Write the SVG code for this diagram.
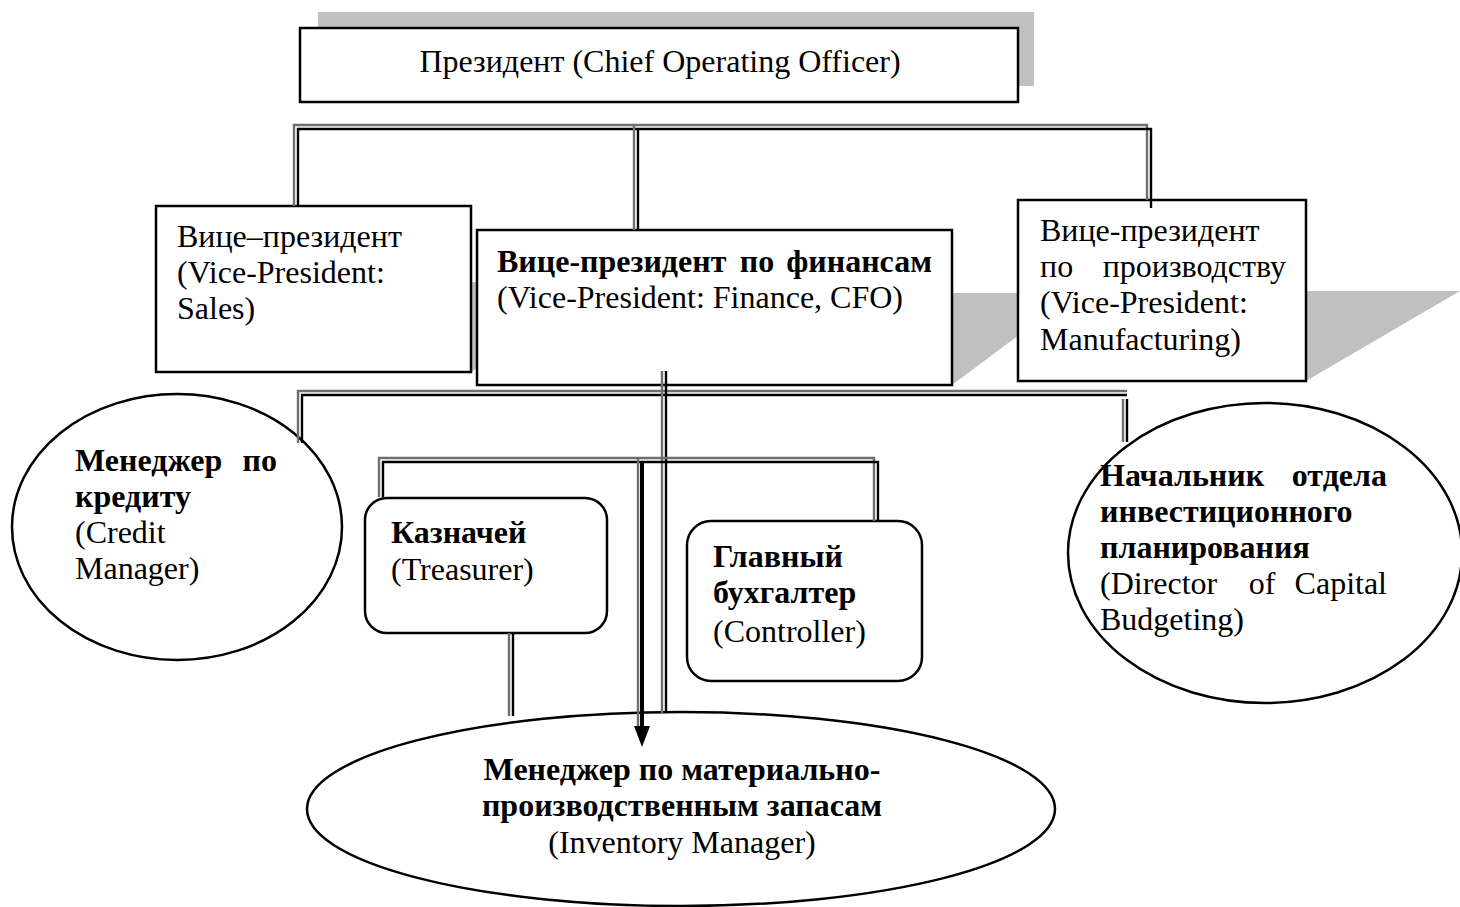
<svg xmlns="http://www.w3.org/2000/svg" width="1460" height="907" viewBox="0 0 1460 907">
<style>
.bg{fill:#fff}
.shadow{fill:#c0c0c0;stroke:none}
.box{fill:#fff;stroke:#000;stroke-width:2.5}
.t{font-family:"Liberation Serif","Times New Roman",serif;font-size:32px;fill:#000}
.b{font-weight:bold}
.cg{fill:none;stroke:#6e6e6e;stroke-width:2.4}
.cb{fill:none;stroke:#000;stroke-width:2.4}
</style>
<rect class="bg" x="0" y="0" width="1460" height="907"/>
<g id="shadows">
<rect class="shadow" x="318" y="12" width="716" height="74"/>
<polygon class="shadow" points="156,372 471,372 625,282 310,282"/>
<polygon class="shadow" points="477,385 952,385 1075,293 600,293"/>
<polygon class="shadow" points="1018,381 1306,381 1460,291 1172,291"/>
</g>
<g id="president">
<rect class="box" x="300" y="28" width="718" height="74"/>
<text class="t" x="660" y="72" text-anchor="middle">Президент (Chief Operating Officer)</text>
</g>
<g id="vp-sales">
<rect class="box" x="156" y="206" width="315" height="166"/>
<text class="t" x="177" y="247">Вице–президент</text>
<text class="t" x="177" y="283">(Vice-President:</text>
<text class="t" x="177" y="319">Sales)</text>
</g>
<g id="vp-finance">
<rect class="box" x="477" y="230" width="475" height="155"/>
<text class="t b" y="272"><tspan x="497">Вице-президент</tspan><tspan x="757" text-anchor="middle">по</tspan><tspan x="932" text-anchor="end">финансам</tspan></text>
<text class="t" x="497" y="308">(Vice-President: Finance, CFO)</text>
</g>
<g id="vp-manufacturing">
<rect class="box" x="1018" y="200" width="288" height="181"/>
<text class="t" x="1040" y="241">Вице-президент</text>
<text class="t" y="277"><tspan x="1040">по</tspan><tspan x="1286" text-anchor="end">производству</tspan></text>
<text class="t" x="1040" y="313">(Vice-President:</text>
<text class="t" x="1040" y="350">Manufacturing)</text>
</g>
<g id="credit-manager">
<ellipse class="box" cx="177" cy="527" rx="165" ry="133" stroke-width="2"/>
<text class="t b" y="471"><tspan x="75">Менеджер</tspan><tspan x="277" text-anchor="end">по</tspan></text>
<text class="t b" x="75" y="507">кредиту</text>
<text class="t" x="75" y="543">(Credit</text>
<text class="t" x="75" y="579">Manager)</text>
</g>
<g id="treasurer">
<rect class="box" x="365" y="498" width="242" height="135" rx="22" ry="22"/>
<text class="t b" x="391" y="543">Казначей</text>
<text class="t" x="391" y="580">(Treasurer)</text>
</g>
<g id="controller">
<rect class="box" x="687" y="521" width="235" height="160" rx="24" ry="24"/>
<text class="t b" x="713" y="567">Главный</text>
<text class="t b" x="713" y="603">бухгалтер</text>
<text class="t" x="713" y="642">(Controller)</text>
</g>
<g id="capital-budgeting">
<ellipse class="box" cx="1265" cy="553" rx="197" ry="150" stroke-width="2"/>
<text class="t b" y="486"><tspan x="1100">Начальник</tspan><tspan x="1387" text-anchor="end">отдела</tspan></text>
<text class="t b" x="1100" y="522">инвестиционного</text>
<text class="t b" x="1100" y="558">планирования</text>
<text class="t" y="594"><tspan x="1100">(Director</tspan><tspan x="1262" text-anchor="middle">of</tspan><tspan x="1387" text-anchor="end">Capital</tspan></text>
<text class="t" x="1100" y="630">Budgeting)</text>
</g>
<g id="inventory-manager">
<ellipse class="box" cx="681" cy="809" rx="374" ry="97" stroke-width="2"/>
<text class="t b" x="682" y="780" text-anchor="middle">Менеджер по материально-</text>
<text class="t b" x="682" y="816" text-anchor="middle">производственным запасам</text>
<text class="t" x="682" y="853" text-anchor="middle">(Inventory Manager)</text>
</g>
<g id="connectors">
<path class="cg" d="M294,206 V125 H1147 V200"/>
<path class="cb" d="M298,206 V129 H1151 V208"/>
<path class="cg" d="M634,125 V230"/>
<path class="cb" d="M638,129 V230"/>
<path class="cg" d="M298,443 V391 H1127"/>
<path class="cb" d="M302,443 V395 H1127"/>
<path class="cg" d="M1123,399 V442"/>
<path class="cb" d="M1127,399 V442"/>
<path class="cg" d="M662,371 V713"/>
<path class="cb" d="M666,371 V713"/>
<path class="cg" d="M379,497 V458 H874 V521"/>
<path class="cb" d="M383,497 V462 H878 V521"/>
<path class="cg" d="M509,633 V716"/>
<path class="cb" d="M513,633 V716"/>
<path class="cg" d="M638,458 V728" stroke-width="1.5"/>
<path d="M642,462 V727" fill="none" stroke="#000" stroke-width="4"/>
<polygon points="634,726 650,726 642,747" fill="#000"/>
</g>
</svg>
